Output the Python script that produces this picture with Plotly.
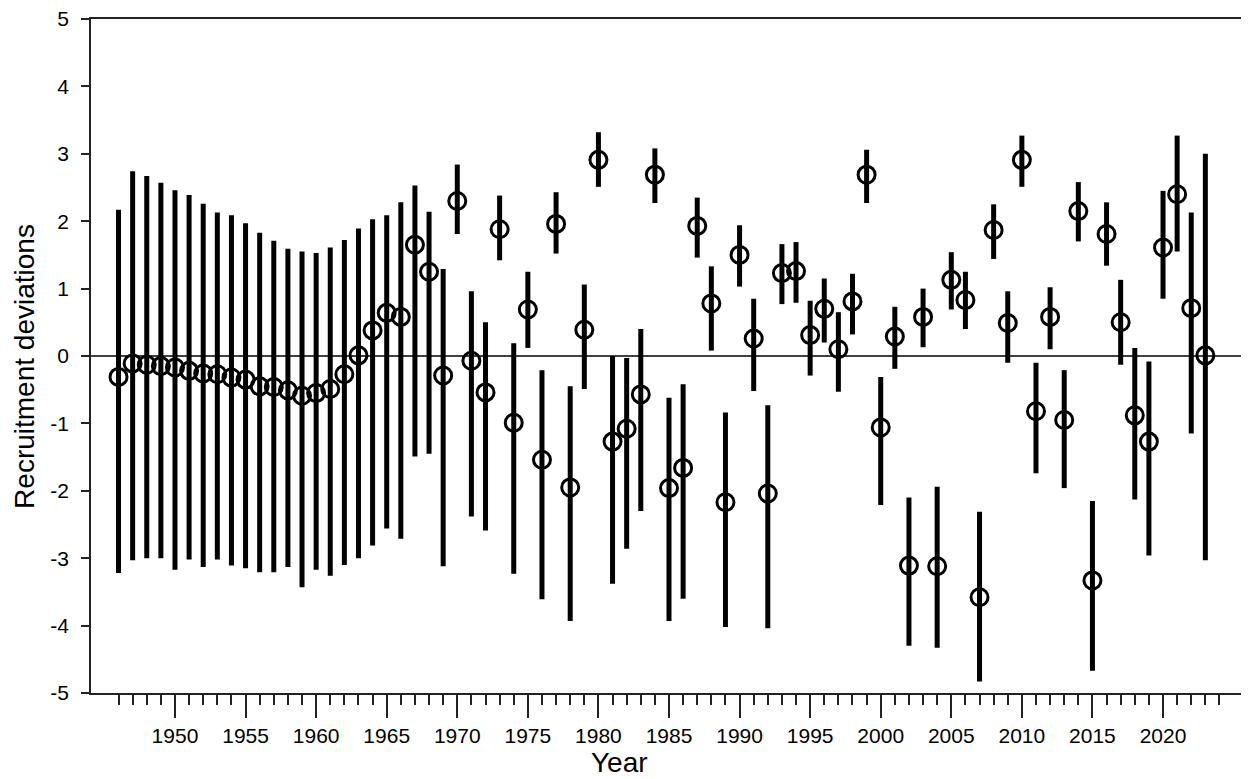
import plotly.graph_objects as go

years = list(range(1946, 2024))

dev = [-0.31, -0.11, -0.13, -0.15, -0.17, -0.22, -0.26, -0.27, -0.32, -0.35,
       -0.45, -0.46, -0.51, -0.59, -0.55, -0.49, -0.27, 0.01, 0.38, 0.64,
       0.58, 1.65, 1.25, -0.29, 2.30, -0.07, -0.54, 1.88, -0.99, 0.69,
       -1.54, 1.96, -1.95, 0.39, 2.91, -1.27, -1.08, -0.57, 2.69, -1.96,
       -1.66, 1.93, 0.78, -2.17, 1.50, 0.26, -2.04, 1.23, 1.26, 0.31,
       0.70, 0.10, 0.81, 2.69, -1.06, 0.29, -3.11, 0.58, -3.12, 1.13,
       0.83, -3.58, 1.87, 0.49, 2.91, -0.82, 0.58, -0.95, 2.15, -3.33,
       1.81, 0.50, -0.88, -1.27, 1.61, 2.40, 0.71, 0.01]

upper = [2.17, 2.74, 2.67, 2.57, 2.46, 2.39, 2.26, 2.13, 2.09, 1.97,
         1.83, 1.71, 1.59, 1.55, 1.53, 1.61, 1.72, 1.89, 2.03, 2.09,
         2.28, 2.53, 2.14, 1.29, 2.84, 0.96, 0.50, 2.38, 0.19, 1.25,
         -0.21, 2.43, -0.45, 1.06, 3.32, 0.00, -0.03, 0.40, 3.08, -0.62,
         -0.42, 2.35, 1.33, -0.84, 1.94, 0.85, -0.73, 1.66, 1.69, 0.82,
         1.15, 0.65, 1.22, 3.06, -0.31, 0.73, -2.10, 1.00, -1.94, 1.54,
         1.25, -2.31, 2.25, 0.96, 3.27, -0.10, 1.02, -0.21, 2.58, -2.15,
         2.28, 1.13, 0.12, -0.08, 2.45, 3.27, 2.13, 3.00]

lower = [-3.22, -3.03, -3.00, -3.00, -3.17, -3.02, -3.13, -3.02, -3.11, -3.15,
         -3.21, -3.21, -3.13, -3.43, -3.17, -3.26, -3.10, -3.00, -2.81, -2.56,
         -2.71, -1.49, -1.45, -3.12, 1.81, -2.38, -2.59, 1.42, -3.23, 0.12,
         -3.61, 1.52, -3.93, -0.49, 2.51, -3.38, -2.86, -2.30, 2.27, -3.93,
         -3.60, 1.46, 0.08, -4.02, 1.03, -0.52, -4.04, 0.77, 0.79, -0.29,
         0.20, -0.53, 0.32, 2.27, -2.21, -0.19, -4.30, 0.13, -4.33, 0.69,
         0.40, -4.83, 1.44, -0.10, 2.51, -1.74, 0.10, -1.96, 1.70, -4.67,
         1.34, -0.13, -2.13, -2.96, 0.85, 1.55, -1.15, -3.03]

major_ticks = list(range(1950, 2021, 5))
minor_ticks = list(range(1946, 2025))
y_ticks = list(range(-5, 6))

err_plus = [u - d for u, d in zip(upper, dev)]
err_minus = [d - l for d, l in zip(dev, lower)]

FONT = "Liberation Sans, Arial, Helvetica, sans-serif"
AX = "#222222"

fig = go.Figure()
fig.add_trace(go.Scatter(
    x=years, y=dev, mode="markers",
    marker=dict(symbol="circle-open", size=17, color="black",
                line=dict(width=3, color="black")),
    error_y=dict(type="data", symmetric=False, array=err_plus,
                 arrayminus=err_minus, width=0, thickness=5, color="black"),
    showlegend=False,
))

fig.add_shape(type="line", xref="paper", yref="y", x0=0, x1=1, y0=0, y1=0,
              line=dict(color="black", width=1.5), layer="below")

fig.update_layout(
    width=1241, height=771,
    margin=dict(l=83, r=2, t=11, b=86, autoexpand=False),
    paper_bgcolor="white", plot_bgcolor="white",
    font=dict(family=FONT, size=21, color="black"),
    xaxis=dict(
        range=[1944.05, 2025.95], tickmode="array", tickvals=major_ticks,
        ticktext=[str(t) for t in major_ticks],
        ticks="outside", ticklen=23, tickwidth=2, tickcolor=AX,
        showgrid=False, zeroline=False, automargin=False,
        showline=True, linecolor=AX, linewidth=1.5, mirror=True,
        tickfont=dict(size=21, family=FONT, color="black"),
        ticklabeloverflow="allow",
        minor=dict(tickmode="array", tickvals=minor_ticks, ticks="outside",
                   ticklen=10, tickwidth=2, tickcolor=AX, showgrid=False),
    ),
    yaxis=dict(
        range=[-5, 5], tickmode="array", tickvals=y_ticks,
        ticktext=[str(t) for t in y_ticks],
        ticks="outside", ticklen=8, tickwidth=1.5, tickcolor=AX,
        ticklabelstandoff=8, ticklabeloverflow="allow", automargin=False,
        showgrid=False, zeroline=False,
        showline=True, linecolor=AX, linewidth=1.5, mirror=True,
        tickfont=dict(size=21, family=FONT, color="black"),
    ),
    annotations=[
        dict(text="Year", xref="paper", yref="paper", x=0.4576, y=-0.103,
             xanchor="center", yanchor="middle", showarrow=False,
             font=dict(size=28, family=FONT, color="black")),
        dict(text="Recruitment deviations", xref="paper", yref="paper",
             x=-0.057, y=0.484, xanchor="center", yanchor="middle",
             textangle=-90, showarrow=False,
             font=dict(size=28, family=FONT, color="black")),
    ],
)

fig.write_html("out.html")
